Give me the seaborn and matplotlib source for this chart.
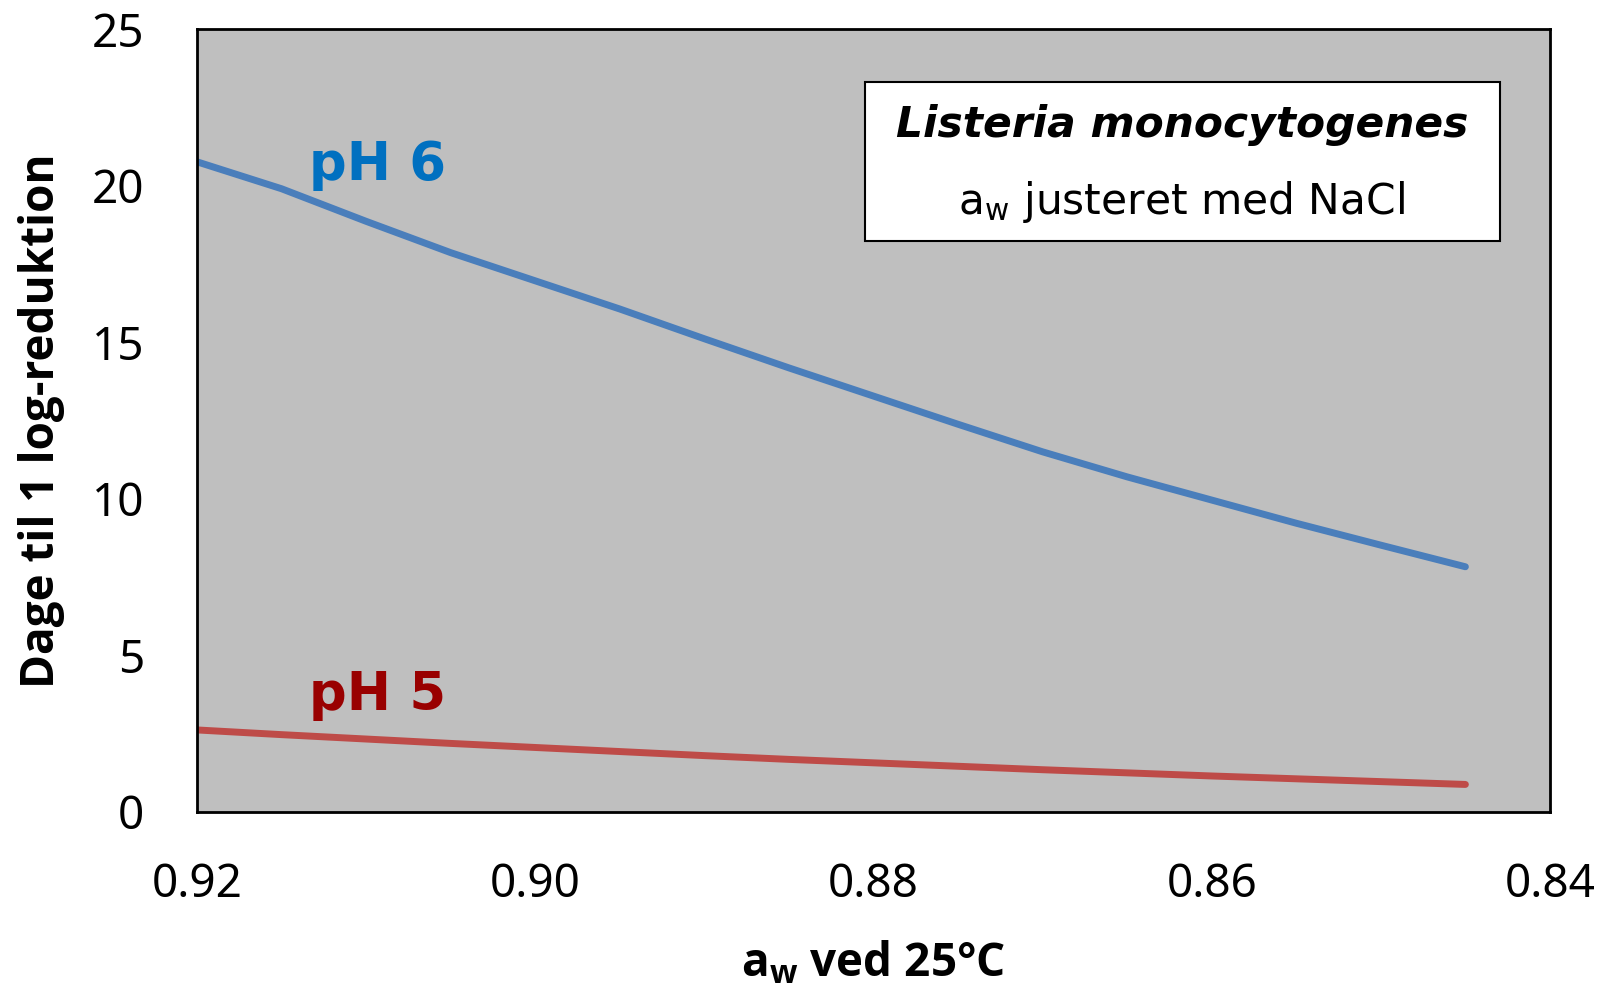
import numpy as np
import pandas as pd
import matplotlib
matplotlib.use('Agg')
import matplotlib.pyplot as plt
import seaborn as sns

# a_w values (x) and days to 1 log reduction for each pH
aw = [0.920, 0.915, 0.910, 0.905, 0.900, 0.895, 0.890, 0.885, 0.880,
      0.875, 0.870, 0.865, 0.860, 0.855, 0.850, 0.845]
ph6_days = [20.76, 19.90, 18.86, 17.86, 16.96, 16.06, 15.11, 14.18, 13.28,
            12.38, 11.50, 10.70, 9.96, 9.22, 8.52, 7.83]
ph5_days = [2.62, 2.47, 2.33, 2.19, 2.06, 1.93, 1.80, 1.68, 1.57,
            1.46, 1.35, 1.25, 1.15, 1.06, 0.97, 0.88]

sns.set_style('white')
plt.rcParams['font.family'] = ['Noto Sans', 'DejaVu Sans']
plt.rcParams['text.color'] = 'black'
plt.rcParams['axes.labelcolor'] = 'black'
plt.rcParams['xtick.color'] = 'black'
plt.rcParams['ytick.color'] = 'black'

df = pd.DataFrame({'aw': aw * 2,
                   'days': ph6_days + ph5_days,
                   'ph': ['pH 6'] * len(aw) + ['pH 5'] * len(aw)})

fig = plt.figure(figsize=(16.08, 9.9), dpi=100)
ax = fig.add_axes([0.1225, 0.1798, 0.8414, 0.7909])
ax.set_facecolor('#BFBFBF')

sns.lineplot(data=df, x='aw', y='days', hue='ph',
             palette={'pH 6': '#4A7EBB', 'pH 5': '#BE4B48'},
             linewidth=5, legend=False, ax=ax,
             solid_capstyle='round', solid_joinstyle='round')

ax.set_xlim(0.92, 0.84)
ax.set_ylim(0, 25)
ax.set_xticks([0.92, 0.90, 0.88, 0.86, 0.84])
ax.set_xticklabels(['0.92', '0.90', '0.88', '0.86', '0.84'])
ax.set_yticks([0, 5, 10, 15, 20, 25])
for s in ax.spines.values():
    s.set_color('black')
    s.set_linewidth(2)
ax.tick_params(axis='both', direction='out', length=12, width=2,
               colors='black', labelsize=33)
ax.tick_params(axis='x', pad=24)
ax.tick_params(axis='y', pad=26)

lab_font = ['Open Sans', 'DejaVu Sans']
ax.set_ylabel('Dage til 1 log-reduktion', fontsize=33, fontweight='bold',
              family=lab_font, labelpad=19)
ax.set_xlabel(r'a$_\mathregular{w}$ ved 25°C', fontsize=33, fontweight='bold',
              family=lab_font, labelpad=23)

ax.text(0.9093, 20.67, 'pH 6', color='#0070C0', fontsize=38,
        fontweight='bold', family='DejaVu Sans', ha='center', va='center')
ax.text(0.9093, 3.74, 'pH 5', color='#990000', fontsize=38,
        fontweight='bold', family='DejaVu Sans', ha='center', va='center')

# info box
box = plt.Rectangle((0.4937, 0.729), 0.4693, 0.203, transform=ax.transAxes,
                    facecolor='white', edgecolor='black', linewidth=1.5, zorder=5)
ax.add_patch(box)
ax.text(0.728, 0.877, 'Listeria monocytogenes', transform=ax.transAxes,
        fontsize=30.5, fontweight='bold', style='italic', family='DejaVu Sans',
        ha='center', va='center', zorder=6)
ax.text(0.728, 0.7785, r'a$_\mathregular{w}$ justeret med NaCl', transform=ax.transAxes,
        fontsize=30.5, family='DejaVu Sans', ha='center', va='center', zorder=6)

fig.savefig('out.png', dpi=100)
